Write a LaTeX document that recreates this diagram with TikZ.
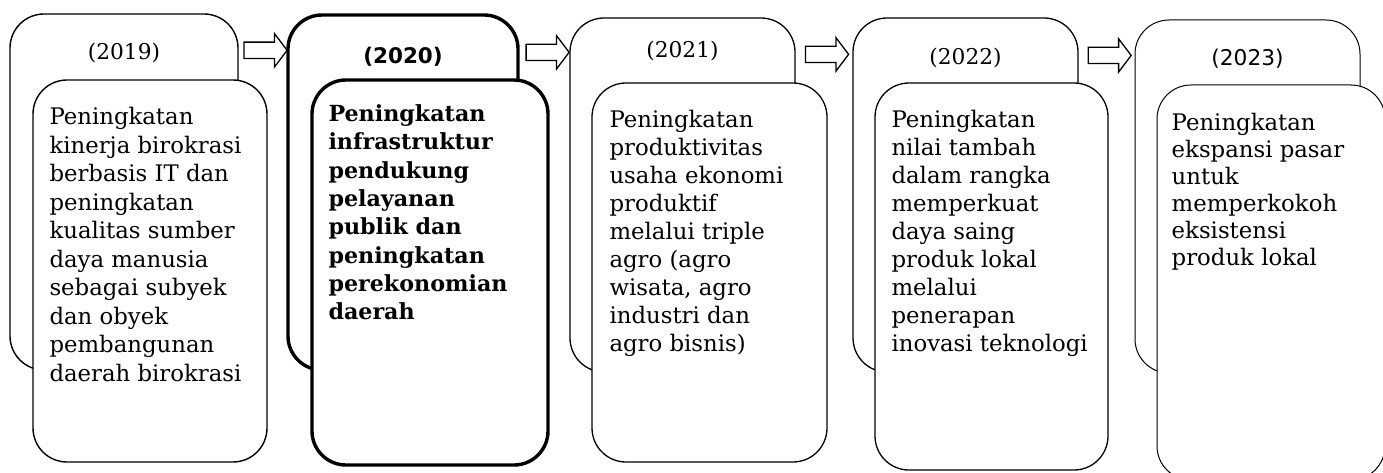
\documentclass[tikz,border=0pt]{standalone}
\usepackage{fontspec}
\setmainfont{DejaVu Serif}
\newfontfamily\yearsans{DejaVu Sans}
\usetikzlibrary{calc}
\usetikzlibrary{positioning}
\usetikzlibrary{shapes.arrows}

\begin{document}
\begin{tikzpicture}[
		x=1pt,y=-1pt,
		roundbox/.style={draw,rounded corners=34pt,line width=1.4pt,fill=white,inner sep=0pt},
		yeartext/.style={inner sep=0pt,anchor=base,font=\fontsize{21.7}{26}\selectfont},
		bodytext/.style={inner sep=0pt,align=left,font=\fontsize{22.8}{28}\selectfont},
		blockarrow/.style={draw,single arrow,line width=1.3pt,fill=white,inner xsep=0pt,inner ysep=7.5pt,
			minimum height=43pt,single arrow head extend=8.5pt,single arrow tip angle=106}
	]
	\useasboundingbox (0,0) rectangle (1383,473);
	\clip (0,0) rectangle (1383,473);

	\node [roundbox,minimum width=228pt,minimum height=356pt] (o1) at (124,192) {};
	\node [yeartext] (y1) at ([yshift=-46pt]o1.north) {(2019)};
	\node [roundbox,minimum width=234pt,minimum height=382pt] (b1) at (150,271) {};
	\node [bodytext,font=\fontsize{22.8}{28.5}\selectfont,below right=27.7pt and 17pt of b1.north west] (t1) {Peningkatan\\kinerja birokrasi\\berbasis IT dan\\peningkatan\\kualitas sumber\\daya manusia\\sebagai subyek\\dan obyek\\pembangunan\\daerah birokrasi};

	\node [roundbox,line width=3.4pt,minimum width=230pt,minimum height=355pt] (o2) at (403,192.5) {};
	\node [yeartext,font=\yearsans\bfseries\fontsize{21.5}{26}\selectfont] (y2) at ([yshift=-50pt]o2.north) {(2020)};
	\node [roundbox,line width=3.4pt,minimum width=236pt,minimum height=385pt] (b2) at (430,272.5) {};
	\node [bodytext,font=\bfseries\fontsize{22.2}{28.3}\selectfont,below right=26.3pt and 18pt of b2.north west] (t2) {Peningkatan\\infrastruktur\\pendukung\\pelayanan\\publik dan\\peningkatan\\perekonomian\\daerah};

	\node [roundbox,line width=1.3pt,minimum width=225pt,minimum height=354pt] (o3) at (682.5,195) {};
	\node [yeartext] (y3) at ([yshift=-40pt]o3.north) {(2021)};
	\node [roundbox,line width=1.3pt,minimum width=235pt,minimum height=379pt] (b3) at (709.5,272.5) {};
	\node [bodytext,below right=27.7pt and 18pt of b3.north west] (t3) {Peningkatan\\produktivitas\\usaha ekonomi\\produktif\\melalui triple\\agro (agro\\wisata, agro\\industri dan\\agro bisnis)};

	\node [roundbox,line width=1.3pt,minimum width=225pt,minimum height=354pt] (o4) at (965.5,195) {};
	\node [yeartext] (y4) at ([yshift=-47pt]o4.north) {(2022)};
	\node [roundbox,line width=1.3pt,minimum width=233pt,minimum height=387pt] (b4) at (991.5,276.5) {};
	\node [bodytext,below right=27.7pt and 17pt of b4.north west] (t4) {Peningkatan\\nilai tambah\\dalam rangka\\memperkuat\\daya saing\\produk lokal\\melalui\\penerapan\\inovasi teknologi};

	\node [roundbox,line width=1pt,minimum width=225pt,minimum height=353pt] (o5) at (1247.5,196.5) {};
	\node [yeartext,font=\yearsans\fontsize{21.7}{26}\selectfont] (y5) at ([yshift=-46pt]o5.north) {(2023)};
	\node [roundbox,line width=1pt,minimum width=228pt,minimum height=395pt] (b5) at (1271,282.5) {};
	\node [bodytext,font=\fontsize{22.8}{27}\selectfont,below right=28.5pt and 15pt of b5.north west] (t5) {Peningkatan\\ekspansi pasar\\untuk\\memperkokoh\\eksistensi\\produk lokal};

	\node [blockarrow] (a1) at ($(o1.north east)!.5!(o2.north west)+(0,37)$) {};
	\node [blockarrow] (a2) at ($(o2.north east)!.5!(o3.north west)+(0,37)$) {};
	\node [blockarrow] (a3) at ($(o3.north east)!.5!(o4.north west)+(0,37)$) {};
	\node [blockarrow] (a4) at ($(o4.north east)!.5!(o5.north west)+(0,37)$) {};
\end{tikzpicture}
\end{document}
